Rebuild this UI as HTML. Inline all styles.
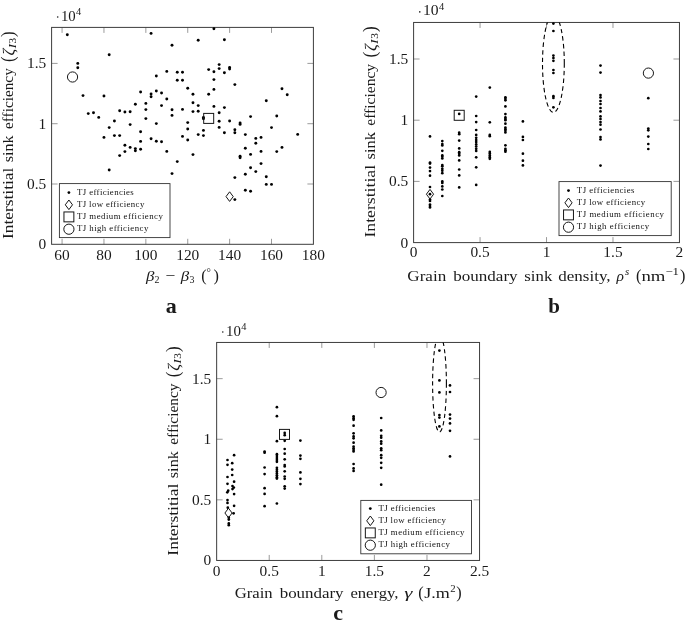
<!DOCTYPE html>
<html lang="en"><head><meta charset="utf-8"><title>Interstitial sink efficiency of triple junctions</title>
<style>html,body{margin:0;padding:0;background:#fff}body{width:685px;height:625px;overflow:hidden}svg{display:block}text{font-family:"Liberation Serif", serif}.mk{fill:#fff;fill-opacity:0;stroke:#161616;stroke-width:1}</style></head><body>
<svg width="685" height="625" viewBox="0 0 685 625">
<rect width="685" height="625" fill="#fff"/>
<g stroke="#707070" stroke-width="0.7" fill="none">
<path d="M62.07 27.40v5.5M62.07 244.30v-5.5"/>
<path d="M103.96 27.40v5.5M103.96 244.30v-5.5"/>
<path d="M145.85 27.40v5.5M145.85 244.30v-5.5"/>
<path d="M187.74 27.40v5.5M187.74 244.30v-5.5"/>
<path d="M229.62 27.40v5.5M229.62 244.30v-5.5"/>
<path d="M271.51 27.40v5.5M271.51 244.30v-5.5"/>
<path d="M51.60 184.00h6.0M313.40 184.00h-6.0"/>
<path d="M51.60 123.70h6.0M313.40 123.70h-6.0"/>
<path d="M51.60 63.40h6.0M313.40 63.40h-6.0"/>
</g>
<rect x="51.60" y="27.40" width="261.80" height="216.90" fill="none" stroke="#3c3c3c" stroke-width="1"/>
<g fill="#000">
<circle cx="67.31" cy="34.80" r="1.45"/>
<circle cx="151.08" cy="33.40" r="1.45"/>
<circle cx="172.03" cy="45.20" r="1.45"/>
<circle cx="109.19" cy="54.80" r="1.45"/>
<circle cx="77.78" cy="63.40" r="1.45"/>
<circle cx="77.78" cy="67.80" r="1.45"/>
<circle cx="166.79" cy="71.40" r="1.45"/>
<circle cx="177.26" cy="72.20" r="1.45"/>
<circle cx="182.50" cy="72.20" r="1.45"/>
<circle cx="156.32" cy="76.00" r="1.45"/>
<circle cx="177.26" cy="80.20" r="1.45"/>
<circle cx="182.50" cy="80.20" r="1.45"/>
<circle cx="187.73" cy="88.20" r="1.45"/>
<circle cx="140.61" cy="92.00" r="1.45"/>
<circle cx="156.32" cy="91.00" r="1.45"/>
<circle cx="151.08" cy="94.00" r="1.45"/>
<circle cx="151.08" cy="96.80" r="1.45"/>
<circle cx="161.55" cy="93.00" r="1.45"/>
<circle cx="83.01" cy="95.60" r="1.45"/>
<circle cx="103.96" cy="96.00" r="1.45"/>
<circle cx="166.79" cy="99.00" r="1.45"/>
<circle cx="145.85" cy="103.40" r="1.45"/>
<circle cx="135.37" cy="104.20" r="1.45"/>
<circle cx="161.55" cy="105.60" r="1.45"/>
<circle cx="145.85" cy="109.60" r="1.45"/>
<circle cx="172.03" cy="109.80" r="1.45"/>
<circle cx="182.50" cy="109.40" r="1.45"/>
<circle cx="119.67" cy="110.80" r="1.45"/>
<circle cx="124.90" cy="112.00" r="1.45"/>
<circle cx="130.14" cy="111.80" r="1.45"/>
<circle cx="88.25" cy="113.60" r="1.45"/>
<circle cx="93.49" cy="112.80" r="1.45"/>
<circle cx="172.03" cy="115.40" r="1.45"/>
<circle cx="98.72" cy="117.40" r="1.45"/>
<circle cx="145.85" cy="118.60" r="1.45"/>
<circle cx="114.43" cy="121.00" r="1.45"/>
<circle cx="130.14" cy="124.60" r="1.45"/>
<circle cx="156.32" cy="123.60" r="1.45"/>
<circle cx="187.73" cy="122.60" r="1.45"/>
<circle cx="109.19" cy="127.60" r="1.45"/>
<circle cx="187.73" cy="129.00" r="1.45"/>
<circle cx="140.61" cy="131.80" r="1.45"/>
<circle cx="103.96" cy="137.40" r="1.45"/>
<circle cx="114.43" cy="135.60" r="1.45"/>
<circle cx="119.67" cy="135.60" r="1.45"/>
<circle cx="182.50" cy="136.40" r="1.45"/>
<circle cx="151.08" cy="138.80" r="1.45"/>
<circle cx="187.73" cy="140.00" r="1.45"/>
<circle cx="140.61" cy="141.40" r="1.45"/>
<circle cx="156.32" cy="141.20" r="1.45"/>
<circle cx="161.55" cy="141.80" r="1.45"/>
<circle cx="124.90" cy="145.20" r="1.45"/>
<circle cx="130.14" cy="147.40" r="1.45"/>
<circle cx="135.37" cy="148.60" r="1.45"/>
<circle cx="140.61" cy="149.20" r="1.45"/>
<circle cx="213.91" cy="28.80" r="1.45"/>
<circle cx="198.21" cy="40.20" r="1.45"/>
<circle cx="224.39" cy="39.80" r="1.45"/>
<circle cx="219.15" cy="64.60" r="1.45"/>
<circle cx="219.15" cy="68.60" r="1.45"/>
<circle cx="208.68" cy="69.60" r="1.45"/>
<circle cx="213.91" cy="71.80" r="1.45"/>
<circle cx="229.62" cy="67.40" r="1.45"/>
<circle cx="229.62" cy="69.00" r="1.45"/>
<circle cx="224.39" cy="72.80" r="1.45"/>
<circle cx="213.91" cy="79.60" r="1.45"/>
<circle cx="234.86" cy="84.60" r="1.45"/>
<circle cx="213.91" cy="89.40" r="1.45"/>
<circle cx="192.97" cy="94.20" r="1.45"/>
<circle cx="208.68" cy="94.20" r="1.45"/>
<circle cx="281.98" cy="88.80" r="1.45"/>
<circle cx="287.22" cy="94.80" r="1.45"/>
<circle cx="266.27" cy="100.80" r="1.45"/>
<circle cx="192.97" cy="102.80" r="1.45"/>
<circle cx="198.21" cy="105.60" r="1.45"/>
<circle cx="213.91" cy="106.40" r="1.45"/>
<circle cx="224.39" cy="107.60" r="1.45"/>
<circle cx="192.97" cy="111.60" r="1.45"/>
<circle cx="198.21" cy="111.20" r="1.45"/>
<circle cx="219.15" cy="112.80" r="1.45"/>
<circle cx="203.44" cy="117.50" r="1.45"/>
<circle cx="203.44" cy="118.70" r="1.45"/>
<circle cx="250.57" cy="116.60" r="1.45"/>
<circle cx="276.75" cy="116.00" r="1.45"/>
<circle cx="219.15" cy="121.20" r="1.45"/>
<circle cx="229.62" cy="121.00" r="1.45"/>
<circle cx="240.09" cy="123.00" r="1.45"/>
<circle cx="240.09" cy="124.40" r="1.45"/>
<circle cx="219.15" cy="127.40" r="1.45"/>
<circle cx="271.51" cy="127.60" r="1.45"/>
<circle cx="203.44" cy="130.40" r="1.45"/>
<circle cx="234.86" cy="129.80" r="1.45"/>
<circle cx="234.86" cy="132.80" r="1.45"/>
<circle cx="224.39" cy="132.80" r="1.45"/>
<circle cx="198.21" cy="134.60" r="1.45"/>
<circle cx="203.44" cy="135.60" r="1.45"/>
<circle cx="245.33" cy="134.60" r="1.45"/>
<circle cx="297.69" cy="134.40" r="1.45"/>
<circle cx="255.80" cy="138.40" r="1.45"/>
<circle cx="261.04" cy="137.40" r="1.45"/>
<circle cx="255.80" cy="143.20" r="1.45"/>
<circle cx="245.33" cy="148.20" r="1.45"/>
<circle cx="281.98" cy="147.40" r="1.45"/>
<circle cx="135.37" cy="150.80" r="1.45"/>
<circle cx="124.90" cy="151.60" r="1.45"/>
<circle cx="166.79" cy="151.40" r="1.45"/>
<circle cx="119.67" cy="155.60" r="1.45"/>
<circle cx="177.26" cy="161.60" r="1.45"/>
<circle cx="109.19" cy="170.00" r="1.45"/>
<circle cx="172.03" cy="173.60" r="1.45"/>
<circle cx="261.04" cy="151.40" r="1.45"/>
<circle cx="276.75" cy="151.60" r="1.45"/>
<circle cx="192.97" cy="154.60" r="1.45"/>
<circle cx="250.57" cy="154.40" r="1.45"/>
<circle cx="240.09" cy="156.20" r="1.45"/>
<circle cx="240.09" cy="157.80" r="1.45"/>
<circle cx="261.04" cy="163.60" r="1.45"/>
<circle cx="250.57" cy="167.80" r="1.45"/>
<circle cx="255.80" cy="171.60" r="1.45"/>
<circle cx="245.33" cy="174.20" r="1.45"/>
<circle cx="234.86" cy="177.60" r="1.45"/>
<circle cx="266.27" cy="176.80" r="1.45"/>
<circle cx="266.27" cy="184.40" r="1.45"/>
<circle cx="271.51" cy="184.40" r="1.45"/>
<circle cx="245.33" cy="190.20" r="1.45"/>
<circle cx="250.57" cy="191.20" r="1.45"/>
<circle cx="234.86" cy="199.60" r="1.45"/>
</g>
<circle cx="72.54" cy="77.00" r="5.1" class="mk"/>
<rect x="203.68" y="113.40" width="10.00" height="10.00" class="mk"/>
<path d="M229.62 191.80L233.22 196.60L229.62 201.40L226.02 196.60Z" class="mk"/>
<rect x="59.40" y="183.60" width="110.60" height="54.00" fill="#fff" stroke="#333" stroke-width="0.9"/>
<circle cx="68.90" cy="192.60" r="1.4"/>
<path d="M68.90 200.00L72.50 204.80L68.90 209.60L65.30 204.80Z" class="mk"/>
<rect x="63.95" y="211.95" width="9.90" height="9.90" class="mk"/>
<circle cx="68.90" cy="229.20" r="5.1" class="mk"/>
<text transform="translate(77.00 194.80) scale(1.13 1)" font-size="7.8" textLength="50.27" lengthAdjust="spacing" fill="#111">TJ efficiencies</text>
<text transform="translate(77.00 206.80) scale(1.13 1)" font-size="7.8" textLength="59.56" lengthAdjust="spacing" fill="#111">TJ low efficiency</text>
<text transform="translate(77.00 219.00) scale(1.13 1)" font-size="7.8" textLength="75.93" lengthAdjust="spacing" fill="#111">TJ medium efficiency</text>
<text transform="translate(77.00 231.10) scale(1.13 1)" font-size="7.8" textLength="63.10" lengthAdjust="spacing" fill="#111">TJ high efficiency</text>
<text x="62.07" y="259.70" font-size="15.4" text-anchor="middle" fill="#1a1a1a">60</text>
<text x="103.96" y="259.70" font-size="15.4" text-anchor="middle" fill="#1a1a1a">80</text>
<text x="145.85" y="259.70" font-size="15.4" text-anchor="middle" fill="#1a1a1a">100</text>
<text x="187.74" y="259.70" font-size="15.4" text-anchor="middle" fill="#1a1a1a">120</text>
<text x="229.62" y="259.70" font-size="15.4" text-anchor="middle" fill="#1a1a1a">140</text>
<text x="271.51" y="259.70" font-size="15.4" text-anchor="middle" fill="#1a1a1a">160</text>
<text x="313.40" y="259.70" font-size="15.4" text-anchor="middle" fill="#1a1a1a">180</text>
<text x="46.20" y="249.30" font-size="15.4" text-anchor="end" fill="#1a1a1a">0</text>
<text x="46.20" y="189.00" font-size="15.4" text-anchor="end" fill="#1a1a1a">0.5</text>
<text x="46.20" y="128.70" font-size="15.4" text-anchor="end" fill="#1a1a1a">1</text>
<text x="46.20" y="68.40" font-size="15.4" text-anchor="end" fill="#1a1a1a">1.5</text>
<circle cx="57.70" cy="17.00" r="0.8" fill="#1a1a1a"/>
<text x="60.90" y="20.50" font-size="15.4" text-anchor="start" fill="#1a1a1a" textLength="14.80" lengthAdjust="spacingAndGlyphs">10</text>
<text x="76.10" y="14.90" font-size="10.8" text-anchor="start" fill="#1a1a1a" textLength="5.20" lengthAdjust="spacingAndGlyphs">4</text>
<text x="13.40" y="239.10" font-size="15.5" text-anchor="start" fill="#1a1a1a" textLength="71.50" lengthAdjust="spacingAndGlyphs" transform="rotate(-90 13.40 239.10)">Interstitial</text>
<text x="13.40" y="162.20" font-size="15.5" text-anchor="start" fill="#1a1a1a" textLength="26.90" lengthAdjust="spacingAndGlyphs" transform="rotate(-90 13.40 162.20)">sink</text>
<text x="13.40" y="129.00" font-size="15.5" text-anchor="start" fill="#1a1a1a" textLength="60.80" lengthAdjust="spacingAndGlyphs" transform="rotate(-90 13.40 129.00)">efficiency</text>
<text x="13.70" y="61.90" font-size="19" text-anchor="start" fill="#1a1a1a" textLength="5.60" lengthAdjust="spacingAndGlyphs" transform="rotate(-90 13.70 61.90)">(</text>
<text x="14.10" y="55.60" font-size="16.5" text-anchor="start" fill="#1a1a1a" textLength="6.80" lengthAdjust="spacingAndGlyphs" font-style="italic" transform="rotate(-90 14.10 55.60)">&#950;</text>
<text x="15.90" y="48.60" font-size="11" text-anchor="start" fill="#1a1a1a" textLength="4.60" lengthAdjust="spacingAndGlyphs" font-style="italic" transform="rotate(-90 15.90 48.60)">I</text>
<text x="15.90" y="43.50" font-size="11" text-anchor="start" fill="#1a1a1a" textLength="5.60" lengthAdjust="spacingAndGlyphs" transform="rotate(-90 15.90 43.50)">3</text>
<text x="13.70" y="36.90" font-size="19" text-anchor="start" fill="#1a1a1a" textLength="5.60" lengthAdjust="spacingAndGlyphs" transform="rotate(-90 13.70 36.90)">)</text>
<text x="145.90" y="280.60" font-size="15.5" text-anchor="start" fill="#1a1a1a" textLength="8.40" lengthAdjust="spacingAndGlyphs" font-style="italic">&#946;</text>
<text x="154.60" y="283.00" font-size="10.3" text-anchor="start" fill="#1a1a1a" textLength="5.00" lengthAdjust="spacingAndGlyphs">2</text>
<text x="165.60" y="280.60" font-size="15.5" text-anchor="start" fill="#1a1a1a" textLength="9.90" lengthAdjust="spacingAndGlyphs">&#8722;</text>
<text x="180.70" y="280.60" font-size="15.5" text-anchor="start" fill="#1a1a1a" textLength="8.40" lengthAdjust="spacingAndGlyphs" font-style="italic">&#946;</text>
<text x="189.40" y="283.00" font-size="10.3" text-anchor="start" fill="#1a1a1a" textLength="5.00" lengthAdjust="spacingAndGlyphs">3</text>
<text x="201.20" y="281.30" font-size="17.5" text-anchor="start" fill="#1a1a1a" textLength="5.40" lengthAdjust="spacingAndGlyphs">(</text>
<text x="206.50" y="275.80" font-size="10.5" text-anchor="start" fill="#1a1a1a" textLength="4.40" lengthAdjust="spacingAndGlyphs">&#176;</text>
<text x="213.60" y="281.30" font-size="17.5" text-anchor="start" fill="#1a1a1a" textLength="5.40" lengthAdjust="spacingAndGlyphs">)</text>
<text x="171.20" y="312.60" font-size="22" text-anchor="middle" fill="#1a1a1a" font-weight="bold">a</text>
<g stroke="#707070" stroke-width="0.7" fill="none">
<path d="M480.06 22.45v5.5M480.06 242.60v-5.5"/>
<path d="M546.52 22.45v5.5M546.52 242.60v-5.5"/>
<path d="M612.98 22.45v5.5M612.98 242.60v-5.5"/>
<path d="M413.60 181.40h6.0M679.45 181.40h-6.0"/>
<path d="M413.60 120.20h6.0M679.45 120.20h-6.0"/>
<path d="M413.60 59.00h6.0M679.45 59.00h-6.0"/>
</g>
<rect x="413.60" y="22.45" width="265.85" height="220.15" fill="none" stroke="#3c3c3c" stroke-width="1"/>
<g fill="#000">
<circle cx="430.00" cy="136.40" r="1.35"/>
<circle cx="430.00" cy="162.60" r="1.35"/>
<circle cx="430.00" cy="163.60" r="1.35"/>
<circle cx="430.00" cy="167.60" r="1.35"/>
<circle cx="430.00" cy="171.10" r="1.35"/>
<circle cx="430.00" cy="175.70" r="1.35"/>
<circle cx="430.00" cy="187.00" r="1.35"/>
<circle cx="430.00" cy="194.20" r="1.35"/>
<circle cx="430.00" cy="199.60" r="1.35"/>
<circle cx="430.00" cy="200.90" r="1.35"/>
<circle cx="430.00" cy="204.60" r="1.35"/>
<circle cx="430.00" cy="206.10" r="1.35"/>
<circle cx="430.00" cy="207.50" r="1.35"/>
<circle cx="442.30" cy="141.10" r="1.35"/>
<circle cx="442.30" cy="144.00" r="1.35"/>
<circle cx="442.30" cy="145.50" r="1.35"/>
<circle cx="442.30" cy="150.80" r="1.35"/>
<circle cx="442.30" cy="155.40" r="1.35"/>
<circle cx="442.30" cy="156.70" r="1.35"/>
<circle cx="442.30" cy="158.50" r="1.35"/>
<circle cx="442.30" cy="165.10" r="1.35"/>
<circle cx="442.30" cy="166.30" r="1.35"/>
<circle cx="442.30" cy="168.80" r="1.35"/>
<circle cx="442.30" cy="170.70" r="1.35"/>
<circle cx="442.30" cy="173.20" r="1.35"/>
<circle cx="442.30" cy="181.40" r="1.35"/>
<circle cx="442.30" cy="182.90" r="1.35"/>
<circle cx="442.30" cy="186.40" r="1.35"/>
<circle cx="442.30" cy="189.50" r="1.35"/>
<circle cx="442.30" cy="196.00" r="1.35"/>
<circle cx="459.20" cy="113.90" r="1.35"/>
<circle cx="459.20" cy="132.70" r="1.35"/>
<circle cx="459.20" cy="134.20" r="1.35"/>
<circle cx="459.20" cy="140.60" r="1.35"/>
<circle cx="459.20" cy="148.40" r="1.35"/>
<circle cx="459.20" cy="152.20" r="1.35"/>
<circle cx="459.20" cy="153.80" r="1.35"/>
<circle cx="459.20" cy="155.40" r="1.35"/>
<circle cx="459.20" cy="160.40" r="1.35"/>
<circle cx="459.20" cy="169.50" r="1.35"/>
<circle cx="459.20" cy="175.40" r="1.35"/>
<circle cx="459.20" cy="187.40" r="1.35"/>
<circle cx="476.20" cy="96.60" r="1.35"/>
<circle cx="476.20" cy="116.00" r="1.35"/>
<circle cx="476.20" cy="122.10" r="1.35"/>
<circle cx="476.20" cy="130.00" r="1.35"/>
<circle cx="476.20" cy="134.90" r="1.35"/>
<circle cx="476.20" cy="137.80" r="1.35"/>
<circle cx="476.20" cy="140.00" r="1.35"/>
<circle cx="476.20" cy="142.10" r="1.35"/>
<circle cx="476.20" cy="144.40" r="1.35"/>
<circle cx="476.20" cy="146.50" r="1.35"/>
<circle cx="476.20" cy="148.80" r="1.35"/>
<circle cx="476.20" cy="150.90" r="1.35"/>
<circle cx="476.20" cy="157.30" r="1.35"/>
<circle cx="476.20" cy="167.30" r="1.35"/>
<circle cx="476.20" cy="184.90" r="1.35"/>
<circle cx="489.80" cy="87.60" r="1.35"/>
<circle cx="489.80" cy="122.30" r="1.35"/>
<circle cx="489.80" cy="134.90" r="1.35"/>
<circle cx="489.80" cy="136.20" r="1.35"/>
<circle cx="489.80" cy="151.90" r="1.35"/>
<circle cx="489.80" cy="153.60" r="1.35"/>
<circle cx="489.80" cy="155.40" r="1.35"/>
<circle cx="489.80" cy="157.20" r="1.35"/>
<circle cx="489.80" cy="158.80" r="1.35"/>
<circle cx="505.40" cy="97.30" r="1.35"/>
<circle cx="505.40" cy="98.80" r="1.35"/>
<circle cx="505.40" cy="100.30" r="1.35"/>
<circle cx="505.40" cy="106.40" r="1.35"/>
<circle cx="505.40" cy="114.10" r="1.35"/>
<circle cx="505.40" cy="117.40" r="1.35"/>
<circle cx="505.40" cy="118.90" r="1.35"/>
<circle cx="505.40" cy="120.20" r="1.35"/>
<circle cx="505.40" cy="123.70" r="1.35"/>
<circle cx="505.40" cy="127.50" r="1.35"/>
<circle cx="505.40" cy="129.20" r="1.35"/>
<circle cx="505.40" cy="130.80" r="1.35"/>
<circle cx="505.40" cy="132.50" r="1.35"/>
<circle cx="505.40" cy="145.30" r="1.35"/>
<circle cx="505.40" cy="148.80" r="1.35"/>
<circle cx="505.40" cy="150.30" r="1.35"/>
<circle cx="505.40" cy="151.70" r="1.35"/>
<circle cx="522.90" cy="121.40" r="1.35"/>
<circle cx="522.90" cy="136.90" r="1.35"/>
<circle cx="522.90" cy="140.00" r="1.35"/>
<circle cx="522.90" cy="153.70" r="1.35"/>
<circle cx="522.90" cy="160.70" r="1.35"/>
<circle cx="522.90" cy="165.40" r="1.35"/>
<circle cx="553.40" cy="23.60" r="1.35"/>
<circle cx="553.40" cy="31.00" r="1.35"/>
<circle cx="553.40" cy="55.60" r="1.35"/>
<circle cx="553.40" cy="58.00" r="1.35"/>
<circle cx="553.40" cy="60.80" r="1.35"/>
<circle cx="553.40" cy="70.00" r="1.35"/>
<circle cx="553.40" cy="73.00" r="1.35"/>
<circle cx="553.40" cy="96.20" r="1.35"/>
<circle cx="553.40" cy="98.00" r="1.35"/>
<circle cx="553.40" cy="107.30" r="1.35"/>
<circle cx="600.50" cy="65.60" r="1.35"/>
<circle cx="600.50" cy="72.60" r="1.35"/>
<circle cx="600.50" cy="95.00" r="1.35"/>
<circle cx="600.50" cy="97.40" r="1.35"/>
<circle cx="600.50" cy="101.00" r="1.35"/>
<circle cx="600.50" cy="104.00" r="1.35"/>
<circle cx="600.50" cy="108.00" r="1.35"/>
<circle cx="600.50" cy="111.40" r="1.35"/>
<circle cx="600.50" cy="116.40" r="1.35"/>
<circle cx="600.50" cy="119.00" r="1.35"/>
<circle cx="600.50" cy="122.00" r="1.35"/>
<circle cx="600.50" cy="124.70" r="1.35"/>
<circle cx="600.50" cy="129.50" r="1.35"/>
<circle cx="600.50" cy="137.00" r="1.35"/>
<circle cx="600.50" cy="139.40" r="1.35"/>
<circle cx="600.50" cy="165.60" r="1.35"/>
<circle cx="648.30" cy="98.20" r="1.35"/>
<circle cx="648.30" cy="128.60" r="1.35"/>
<circle cx="648.30" cy="130.30" r="1.35"/>
<circle cx="648.30" cy="136.60" r="1.35"/>
<circle cx="648.30" cy="144.00" r="1.35"/>
<circle cx="648.30" cy="149.00" r="1.35"/>
</g>
<path d="M430.00 189.40L433.60 194.20L430.00 199.00L426.40 194.20Z" class="mk"/>
<rect x="454.20" y="110.30" width="10.00" height="10.00" class="mk"/>
<circle cx="648.40" cy="73.10" r="5.1" class="mk"/>
<clipPath id="cb"><rect x="413.6" y="22.45" width="265.85" height="220.15"/></clipPath>
<ellipse cx="553.4" cy="63.5" rx="10.9" ry="48.9" fill="none" stroke="#000" stroke-width="1.1" stroke-dasharray="4.4 3.1" clip-path="url(#cb)"/>
<rect x="559.00" y="181.60" width="112.20" height="54.00" fill="#fff" stroke="#333" stroke-width="0.9"/>
<circle cx="568.50" cy="190.60" r="1.4"/>
<path d="M568.50 198.00L572.10 202.80L568.50 207.60L564.90 202.80Z" class="mk"/>
<rect x="563.55" y="209.95" width="9.90" height="9.90" class="mk"/>
<circle cx="568.50" cy="227.20" r="5.1" class="mk"/>
<text transform="translate(576.87 192.80) scale(1.13 1)" font-size="7.8" textLength="51.04" lengthAdjust="spacing" fill="#111">TJ efficiencies</text>
<text transform="translate(576.87 204.80) scale(1.13 1)" font-size="7.8" textLength="60.48" lengthAdjust="spacing" fill="#111">TJ low efficiency</text>
<text transform="translate(576.87 217.00) scale(1.13 1)" font-size="7.8" textLength="77.11" lengthAdjust="spacing" fill="#111">TJ medium efficiency</text>
<text transform="translate(576.87 229.10) scale(1.13 1)" font-size="7.8" textLength="64.08" lengthAdjust="spacing" fill="#111">TJ high efficiency</text>
<text x="413.60" y="257.20" font-size="15.4" text-anchor="middle" fill="#1a1a1a">0</text>
<text x="480.06" y="257.20" font-size="15.4" text-anchor="middle" fill="#1a1a1a">0.5</text>
<text x="546.52" y="257.20" font-size="15.4" text-anchor="middle" fill="#1a1a1a">1</text>
<text x="612.98" y="257.20" font-size="15.4" text-anchor="middle" fill="#1a1a1a">1.5</text>
<text x="679.44" y="257.20" font-size="15.4" text-anchor="middle" fill="#1a1a1a">2</text>
<text x="408.20" y="247.60" font-size="15.4" text-anchor="end" fill="#1a1a1a">0</text>
<text x="408.20" y="186.40" font-size="15.4" text-anchor="end" fill="#1a1a1a">0.5</text>
<text x="408.20" y="125.20" font-size="15.4" text-anchor="end" fill="#1a1a1a">1</text>
<text x="408.20" y="64.00" font-size="15.4" text-anchor="end" fill="#1a1a1a">1.5</text>
<circle cx="419.79" cy="11.89" r="0.8" fill="#1a1a1a"/>
<text x="423.04" y="15.44" font-size="15.4" text-anchor="start" fill="#1a1a1a" textLength="15.63" lengthAdjust="spacingAndGlyphs">10</text>
<text x="438.98" y="9.76" font-size="10.8" text-anchor="start" fill="#1a1a1a" textLength="5.20" lengthAdjust="spacingAndGlyphs">4</text>
<text x="375.40" y="237.54" font-size="15.5" text-anchor="start" fill="#1a1a1a" textLength="72.64" lengthAdjust="spacingAndGlyphs" transform="rotate(-90 375.40 237.54)">Interstitial</text>
<text x="375.40" y="159.41" font-size="15.5" text-anchor="start" fill="#1a1a1a" textLength="27.33" lengthAdjust="spacingAndGlyphs" transform="rotate(-90 375.40 159.41)">sink</text>
<text x="375.40" y="125.68" font-size="15.5" text-anchor="start" fill="#1a1a1a" textLength="61.77" lengthAdjust="spacingAndGlyphs" transform="rotate(-90 375.40 125.68)">efficiency</text>
<text x="375.70" y="57.50" font-size="19" text-anchor="start" fill="#1a1a1a" textLength="5.69" lengthAdjust="spacingAndGlyphs" transform="rotate(-90 375.70 57.50)">(</text>
<text x="376.10" y="51.10" font-size="16.5" text-anchor="start" fill="#1a1a1a" textLength="6.91" lengthAdjust="spacingAndGlyphs" font-style="italic" transform="rotate(-90 376.10 51.10)">&#950;</text>
<text x="377.90" y="43.99" font-size="11" text-anchor="start" fill="#1a1a1a" textLength="4.67" lengthAdjust="spacingAndGlyphs" font-style="italic" transform="rotate(-90 377.90 43.99)">I</text>
<text x="377.90" y="38.81" font-size="11" text-anchor="start" fill="#1a1a1a" textLength="5.69" lengthAdjust="spacingAndGlyphs" transform="rotate(-90 377.90 38.81)">3</text>
<text x="375.70" y="32.10" font-size="19" text-anchor="start" fill="#1a1a1a" textLength="5.69" lengthAdjust="spacingAndGlyphs" transform="rotate(-90 375.70 32.10)">)</text>
<text x="407.30" y="280.80" font-size="15.5" text-anchor="start" fill="#1a1a1a" textLength="38.90" lengthAdjust="spacingAndGlyphs">Grain</text>
<text x="453.20" y="280.80" font-size="15.5" text-anchor="start" fill="#1a1a1a" textLength="64.40" lengthAdjust="spacingAndGlyphs">boundary</text>
<text x="524.30" y="280.80" font-size="15.5" text-anchor="start" fill="#1a1a1a" textLength="28.00" lengthAdjust="spacingAndGlyphs">sink</text>
<text x="558.30" y="280.80" font-size="15.5" text-anchor="start" fill="#1a1a1a" textLength="52.30" lengthAdjust="spacingAndGlyphs">density,</text>
<text x="616.60" y="280.80" font-size="15.5" text-anchor="start" fill="#1a1a1a" textLength="7.40" lengthAdjust="spacingAndGlyphs" font-style="italic">&#961;</text>
<text x="624.90" y="275.40" font-size="10.3" text-anchor="start" fill="#1a1a1a" textLength="4.20" lengthAdjust="spacingAndGlyphs" font-style="italic">s</text>
<text x="636.00" y="281.30" font-size="17.5" text-anchor="start" fill="#1a1a1a" textLength="5.40" lengthAdjust="spacingAndGlyphs">(</text>
<text x="641.40" y="280.80" font-size="15.5" text-anchor="start" fill="#1a1a1a" textLength="24.00" lengthAdjust="spacingAndGlyphs">nm</text>
<text x="665.40" y="275.30" font-size="11" text-anchor="start" fill="#1a1a1a" textLength="13.60" lengthAdjust="spacingAndGlyphs">&#8722;1</text>
<text x="680.00" y="281.30" font-size="17.5" text-anchor="start" fill="#1a1a1a" textLength="5.40" lengthAdjust="spacingAndGlyphs">)</text>
<text x="554.00" y="312.80" font-size="21" text-anchor="middle" fill="#1a1a1a" font-weight="bold">b</text>
<g stroke="#707070" stroke-width="0.7" fill="none">
<path d="M269.23 342.45v5.5M269.23 560.45v-5.5"/>
<path d="M321.81 342.45v5.5M321.81 560.45v-5.5"/>
<path d="M374.39 342.45v5.5M374.39 560.45v-5.5"/>
<path d="M426.97 342.45v5.5M426.97 560.45v-5.5"/>
<path d="M216.65 499.85h6.0M479.55 499.85h-6.0"/>
<path d="M216.65 439.25h6.0M479.55 439.25h-6.0"/>
<path d="M216.65 378.65h6.0M479.55 378.65h-6.0"/>
</g>
<rect x="216.65" y="342.45" width="262.90" height="218.00" fill="none" stroke="#3c3c3c" stroke-width="1"/>
<g fill="#000">
<circle cx="234.10" cy="455.20" r="1.35"/>
<circle cx="227.50" cy="460.00" r="1.35"/>
<circle cx="232.20" cy="463.20" r="1.35"/>
<circle cx="227.50" cy="464.80" r="1.35"/>
<circle cx="232.20" cy="469.60" r="1.35"/>
<circle cx="232.20" cy="475.00" r="1.35"/>
<circle cx="227.50" cy="477.00" r="1.35"/>
<circle cx="234.10" cy="481.70" r="1.35"/>
<circle cx="227.50" cy="483.80" r="1.35"/>
<circle cx="232.50" cy="486.10" r="1.35"/>
<circle cx="233.80" cy="487.60" r="1.35"/>
<circle cx="232.50" cy="489.10" r="1.35"/>
<circle cx="228.20" cy="490.70" r="1.35"/>
<circle cx="227.30" cy="492.30" r="1.35"/>
<circle cx="234.10" cy="494.10" r="1.35"/>
<circle cx="227.50" cy="500.10" r="1.35"/>
<circle cx="227.50" cy="502.90" r="1.35"/>
<circle cx="234.10" cy="505.80" r="1.35"/>
<circle cx="227.80" cy="507.70" r="1.35"/>
<circle cx="233.60" cy="513.30" r="1.35"/>
<circle cx="228.80" cy="517.70" r="1.35"/>
<circle cx="228.80" cy="519.60" r="1.35"/>
<circle cx="228.80" cy="523.40" r="1.35"/>
<circle cx="228.80" cy="525.20" r="1.35"/>
<circle cx="264.60" cy="451.50" r="1.35"/>
<circle cx="264.60" cy="452.70" r="1.35"/>
<circle cx="264.60" cy="467.50" r="1.35"/>
<circle cx="264.60" cy="474.10" r="1.35"/>
<circle cx="264.60" cy="488.20" r="1.35"/>
<circle cx="264.60" cy="493.90" r="1.35"/>
<circle cx="264.60" cy="506.20" r="1.35"/>
<circle cx="276.90" cy="407.20" r="1.35"/>
<circle cx="276.90" cy="416.20" r="1.35"/>
<circle cx="276.90" cy="441.20" r="1.35"/>
<circle cx="276.90" cy="454.20" r="1.35"/>
<circle cx="276.90" cy="456.10" r="1.35"/>
<circle cx="276.90" cy="458.00" r="1.35"/>
<circle cx="276.90" cy="459.90" r="1.35"/>
<circle cx="276.90" cy="461.80" r="1.35"/>
<circle cx="276.90" cy="467.80" r="1.35"/>
<circle cx="276.90" cy="469.70" r="1.35"/>
<circle cx="276.90" cy="471.60" r="1.35"/>
<circle cx="276.90" cy="473.40" r="1.35"/>
<circle cx="276.90" cy="475.30" r="1.35"/>
<circle cx="276.90" cy="477.20" r="1.35"/>
<circle cx="276.90" cy="478.60" r="1.35"/>
<circle cx="276.90" cy="503.50" r="1.35"/>
<circle cx="284.70" cy="432.90" r="1.35"/>
<circle cx="284.70" cy="435.20" r="1.35"/>
<circle cx="284.70" cy="440.80" r="1.35"/>
<circle cx="284.70" cy="449.00" r="1.35"/>
<circle cx="284.70" cy="453.70" r="1.35"/>
<circle cx="284.70" cy="459.30" r="1.35"/>
<circle cx="284.70" cy="465.00" r="1.35"/>
<circle cx="284.70" cy="466.50" r="1.35"/>
<circle cx="284.70" cy="471.30" r="1.35"/>
<circle cx="284.70" cy="476.50" r="1.35"/>
<circle cx="284.70" cy="478.80" r="1.35"/>
<circle cx="284.70" cy="486.30" r="1.35"/>
<circle cx="284.70" cy="488.60" r="1.35"/>
<circle cx="300.40" cy="440.60" r="1.35"/>
<circle cx="300.40" cy="455.60" r="1.35"/>
<circle cx="300.40" cy="458.80" r="1.35"/>
<circle cx="300.40" cy="472.40" r="1.35"/>
<circle cx="300.40" cy="478.80" r="1.35"/>
<circle cx="300.40" cy="484.10" r="1.35"/>
<circle cx="353.60" cy="416.30" r="1.35"/>
<circle cx="353.60" cy="418.20" r="1.35"/>
<circle cx="353.60" cy="419.80" r="1.35"/>
<circle cx="353.60" cy="425.70" r="1.35"/>
<circle cx="353.60" cy="433.30" r="1.35"/>
<circle cx="353.60" cy="436.40" r="1.35"/>
<circle cx="353.60" cy="438.30" r="1.35"/>
<circle cx="353.60" cy="442.70" r="1.35"/>
<circle cx="353.60" cy="446.50" r="1.35"/>
<circle cx="353.60" cy="448.30" r="1.35"/>
<circle cx="353.60" cy="450.00" r="1.35"/>
<circle cx="353.60" cy="451.50" r="1.35"/>
<circle cx="353.60" cy="464.00" r="1.35"/>
<circle cx="353.60" cy="468.40" r="1.35"/>
<circle cx="353.60" cy="470.90" r="1.35"/>
<circle cx="381.20" cy="418.00" r="1.35"/>
<circle cx="381.20" cy="430.40" r="1.35"/>
<circle cx="381.20" cy="435.80" r="1.35"/>
<circle cx="381.20" cy="437.70" r="1.35"/>
<circle cx="381.20" cy="441.40" r="1.35"/>
<circle cx="381.20" cy="443.70" r="1.35"/>
<circle cx="381.20" cy="448.30" r="1.35"/>
<circle cx="381.20" cy="450.20" r="1.35"/>
<circle cx="381.20" cy="455.20" r="1.35"/>
<circle cx="381.20" cy="457.80" r="1.35"/>
<circle cx="381.20" cy="462.80" r="1.35"/>
<circle cx="381.20" cy="467.80" r="1.35"/>
<circle cx="381.20" cy="484.70" r="1.35"/>
<circle cx="439.40" cy="350.60" r="1.35"/>
<circle cx="439.40" cy="380.40" r="1.35"/>
<circle cx="439.40" cy="392.40" r="1.35"/>
<circle cx="439.40" cy="415.00" r="1.35"/>
<circle cx="439.40" cy="417.60" r="1.35"/>
<circle cx="439.40" cy="426.40" r="1.35"/>
<circle cx="450.00" cy="385.40" r="1.35"/>
<circle cx="450.00" cy="392.00" r="1.35"/>
<circle cx="450.00" cy="414.60" r="1.35"/>
<circle cx="450.00" cy="418.60" r="1.35"/>
<circle cx="450.00" cy="423.40" r="1.35"/>
<circle cx="450.00" cy="430.80" r="1.35"/>
<circle cx="450.00" cy="456.40" r="1.35"/>
</g>
<path d="M228.50 508.20L232.10 513.00L228.50 517.80L224.90 513.00Z" class="mk"/>
<rect x="279.50" y="429.40" width="10.00" height="10.00" class="mk"/>
<circle cx="381.10" cy="392.50" r="5.1" class="mk"/>
<clipPath id="cc"><rect x="216.65" y="342.45" width="262.9" height="218.00000000000006"/></clipPath>
<ellipse cx="439.5" cy="383.5" rx="6.9" ry="48.5" fill="none" stroke="#000" stroke-width="1.1" stroke-dasharray="4.4 3.1" clip-path="url(#cc)"/>
<rect x="360.80" y="500.40" width="110.70" height="53.40" fill="#fff" stroke="#333" stroke-width="0.9"/>
<circle cx="370.30" cy="508.60" r="1.4"/>
<path d="M370.30 516.00L373.90 520.80L370.30 525.60L366.70 520.80Z" class="mk"/>
<rect x="365.35" y="527.95" width="9.90" height="9.90" class="mk"/>
<circle cx="370.30" cy="545.20" r="5.1" class="mk"/>
<text transform="translate(378.45 510.80) scale(1.13 1)" font-size="7.8" textLength="50.42" lengthAdjust="spacing" fill="#111">TJ efficiencies</text>
<text transform="translate(378.45 522.80) scale(1.13 1)" font-size="7.8" textLength="59.74" lengthAdjust="spacing" fill="#111">TJ low efficiency</text>
<text transform="translate(378.45 535.00) scale(1.13 1)" font-size="7.8" textLength="76.16" lengthAdjust="spacing" fill="#111">TJ medium efficiency</text>
<text transform="translate(378.45 547.10) scale(1.13 1)" font-size="7.8" textLength="63.29" lengthAdjust="spacing" fill="#111">TJ high efficiency</text>
<text x="216.65" y="575.60" font-size="15.4" text-anchor="middle" fill="#1a1a1a">0</text>
<text x="269.23" y="575.60" font-size="15.4" text-anchor="middle" fill="#1a1a1a">0.5</text>
<text x="321.81" y="575.60" font-size="15.4" text-anchor="middle" fill="#1a1a1a">1</text>
<text x="374.39" y="575.60" font-size="15.4" text-anchor="middle" fill="#1a1a1a">1.5</text>
<text x="426.97" y="575.60" font-size="15.4" text-anchor="middle" fill="#1a1a1a">2</text>
<text x="479.55" y="575.60" font-size="15.4" text-anchor="middle" fill="#1a1a1a">2.5</text>
<text x="211.25" y="565.45" font-size="15.4" text-anchor="end" fill="#1a1a1a">0</text>
<text x="211.25" y="504.85" font-size="15.4" text-anchor="end" fill="#1a1a1a">0.5</text>
<text x="211.25" y="444.25" font-size="15.4" text-anchor="end" fill="#1a1a1a">1</text>
<text x="211.25" y="383.65" font-size="15.4" text-anchor="end" fill="#1a1a1a">1.5</text>
<circle cx="222.77" cy="332.01" r="0.8" fill="#1a1a1a"/>
<text x="225.99" y="335.52" font-size="15.4" text-anchor="start" fill="#1a1a1a" textLength="14.86" lengthAdjust="spacingAndGlyphs">10</text>
<text x="241.25" y="329.90" font-size="10.8" text-anchor="start" fill="#1a1a1a" textLength="5.20" lengthAdjust="spacingAndGlyphs">4</text>
<text x="178.45" y="555.63" font-size="15.5" text-anchor="start" fill="#1a1a1a" textLength="72.00" lengthAdjust="spacingAndGlyphs" transform="rotate(-90 178.45 555.63)">Interstitial</text>
<text x="178.45" y="478.19" font-size="15.5" text-anchor="start" fill="#1a1a1a" textLength="27.09" lengthAdjust="spacingAndGlyphs" transform="rotate(-90 178.45 478.19)">sink</text>
<text x="178.45" y="444.76" font-size="15.5" text-anchor="start" fill="#1a1a1a" textLength="61.23" lengthAdjust="spacingAndGlyphs" transform="rotate(-90 178.45 444.76)">efficiency</text>
<text x="178.75" y="377.19" font-size="19" text-anchor="start" fill="#1a1a1a" textLength="5.64" lengthAdjust="spacingAndGlyphs" transform="rotate(-90 178.75 377.19)">(</text>
<text x="179.15" y="370.85" font-size="16.5" text-anchor="start" fill="#1a1a1a" textLength="6.85" lengthAdjust="spacingAndGlyphs" font-style="italic" transform="rotate(-90 179.15 370.85)">&#950;</text>
<text x="180.95" y="363.80" font-size="11" text-anchor="start" fill="#1a1a1a" textLength="4.63" lengthAdjust="spacingAndGlyphs" font-style="italic" transform="rotate(-90 180.95 363.80)">I</text>
<text x="180.95" y="358.66" font-size="11" text-anchor="start" fill="#1a1a1a" textLength="5.64" lengthAdjust="spacingAndGlyphs" transform="rotate(-90 180.95 358.66)">3</text>
<text x="178.75" y="352.02" font-size="19" text-anchor="start" fill="#1a1a1a" textLength="5.64" lengthAdjust="spacingAndGlyphs" transform="rotate(-90 178.75 352.02)">)</text>
<text x="234.70" y="597.80" font-size="15.5" text-anchor="start" fill="#1a1a1a" textLength="37.90" lengthAdjust="spacingAndGlyphs">Grain</text>
<text x="279.70" y="597.80" font-size="15.5" text-anchor="start" fill="#1a1a1a" textLength="63.90" lengthAdjust="spacingAndGlyphs">boundary</text>
<text x="350.40" y="597.80" font-size="15.5" text-anchor="start" fill="#1a1a1a" textLength="48.10" lengthAdjust="spacingAndGlyphs">energy,</text>
<text x="404.20" y="597.80" font-size="15.5" text-anchor="start" fill="#1a1a1a" textLength="8.20" lengthAdjust="spacingAndGlyphs" font-style="italic">&#947;</text>
<text x="418.30" y="598.30" font-size="17.5" text-anchor="start" fill="#1a1a1a" textLength="5.40" lengthAdjust="spacingAndGlyphs">(</text>
<text x="424.30" y="597.80" font-size="15.5" text-anchor="start" fill="#1a1a1a" textLength="25.60" lengthAdjust="spacingAndGlyphs">J.m</text>
<text x="450.30" y="592.30" font-size="11" text-anchor="start" fill="#1a1a1a" textLength="5.40" lengthAdjust="spacingAndGlyphs">2</text>
<text x="456.30" y="598.30" font-size="17.5" text-anchor="start" fill="#1a1a1a" textLength="5.40" lengthAdjust="spacingAndGlyphs">)</text>
<text x="338.20" y="620.20" font-size="22" text-anchor="middle" fill="#1a1a1a" font-weight="bold">c</text>
</svg></body></html>
